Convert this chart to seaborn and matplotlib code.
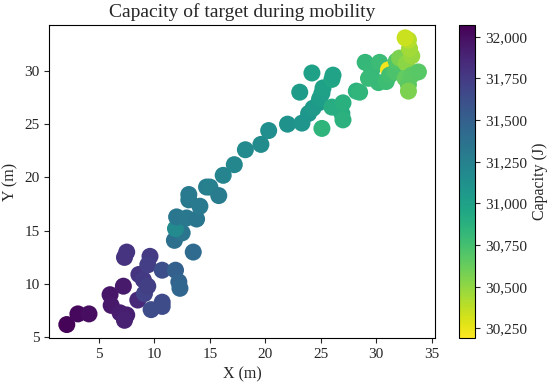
import matplotlib.pyplot as plt
import matplotlib as mpl
import pandas as pd
import seaborn as sns
from matplotlib.ticker import StrMethodFormatter

# positions of the target (m) and remaining capacity (J)
x_pos = [2.1, 3.1, 4.1, 6.0, 6.1, 6.9, 7.5, 7.3, 7.2, 7.3, 7.5,
         8.5, 8.6, 9.0, 9.1, 9.4, 9.6, 9.4, 9.7, 10.7, 10.7, 10.7,
         11.9, 12.2, 12.3, 13.5, 11.8, 12.5, 11.9, 12.0, 12.9, 13.8,
         13.1, 13.1, 14.1, 14.7, 15.0, 15.8, 16.2, 17.2, 18.2, 19.6,
         20.3, 22.0, 23.3, 23.9, 24.3, 24.8, 25.1, 24.9, 25.1, 25.2,
         23.1, 24.2, 26.0, 26.1, 26.0, 26.9, 27.0, 27.0, 28.2, 28.5,
         29.0, 29.6, 30.3, 29.3, 30.2, 30.9, 31.1, 31.2, 31.7, 31.8,
         32.1, 32.7, 32.6, 33.2, 33.8, 32.9, 32.9, 33.2, 33.0, 32.9,
         32.6]
y_pos = [6.2, 7.2, 7.2, 9.0, 8.0, 7.3, 7.1, 6.6, 9.8, 12.5, 13.0,
         8.5, 10.9, 10.4, 9.1, 9.8, 12.6, 11.8, 7.6, 8.3, 7.9, 11.3,
         11.3, 10.2, 9.6, 13.0, 14.1, 14.8, 15.2, 16.3, 16.2, 16.1,
         17.9, 18.4, 17.3, 19.1, 19.1, 18.3, 20.2, 21.2, 22.6, 23.1,
         24.4, 25.0, 25.1, 26.0, 26.5, 27.0, 24.6, 27.4, 27.9, 28.4,
         28.0, 29.8, 29.2, 29.6, 26.6, 26.0, 27.0, 25.4, 28.1, 28.0,
         30.8, 30.1, 30.8, 29.3, 28.9, 29.0, 30.1, 29.6, 29.9, 30.9,
         31.2, 30.7, 29.3, 29.6, 29.9, 28.7, 28.1, 31.4, 32.1, 32.9,
         33.1]
capacity = [32050, 32030, 32010, 31960, 31950, 31930, 31910, 31900, 31940, 31800, 31790,
            31850, 31780, 31760, 31700, 31720, 31740, 31730, 31640, 31650, 31640, 31620,
            31500, 31470, 31450, 31420, 31380, 31340, 31180, 31330, 31320, 31330,
            31310, 31300, 31300, 31270, 31260, 31290, 31220, 31200, 31180, 31160,
            31140, 31110, 31090, 31080, 31060, 31050, 30850, 31030, 31020, 31000,
            31040, 31000, 30960, 30980, 30900, 30900, 30880, 30870, 30860, 30840,
            30820, 30810, 30790, 30800, 30800, 30780, 30220, 30760, 30720, 30700,
            30560, 30520, 30640, 30660, 30680, 30660, 30560, 30480, 30450, 30400,
            30340]

vmin, vmax = 30190, 32070

df = pd.DataFrame({"x": x_pos, "y": y_pos, "capacity": capacity})

sns.set_style("ticks")
plt.rcParams["font.family"] = ["Liberation Serif", "DejaVu Serif"]

fig = plt.figure(figsize=(5.5, 3.85), dpi=100)
ax = fig.add_axes([0.0896, 0.121, 0.7014, 0.814])
cax = fig.add_axes([0.8345, 0.121, 0.0291, 0.814])

norm = mpl.colors.Normalize(vmin=vmin, vmax=vmax)
sns.scatterplot(
    data=df,
    x="x",
    y="y",
    hue="capacity",
    hue_norm=norm,
    palette="viridis_r",
    s=150,
    linewidth=0,
    legend=False,
    ax=ax
)

ax.set_xlim(0.52, 35.3)
ax.set_ylim(4.9, 34.3)
ax.set_xticks([5, 10, 15, 20, 25, 30, 35])
ax.set_yticks([5, 10, 15, 20, 25, 30])
ax.set_title("Capacity of target during mobility", fontsize=14)
ax.set_xlabel("X (m)", fontsize=11.5)
ax.set_ylabel("Y (m)", fontsize=11.5)
ax.tick_params(labelsize=11)
for sp in ax.spines.values():
    sp.set_visible(True)
    sp.set_color("black")

sm = mpl.cm.ScalarMappable(norm=norm, cmap="viridis_r")
cbar = fig.colorbar(sm, cax=cax)
cbar.set_ticks([30250, 30500, 30750, 31000, 31250, 31500, 31750, 32000])
cbar.ax.yaxis.set_major_formatter(StrMethodFormatter("{x:,.0f}"))
cbar.ax.tick_params(labelsize=11)
cbar.set_label("Capacity (J)", fontsize=11.5)
cbar.outline.set_edgecolor("black")

fig.savefig("out.png", dpi=100)
